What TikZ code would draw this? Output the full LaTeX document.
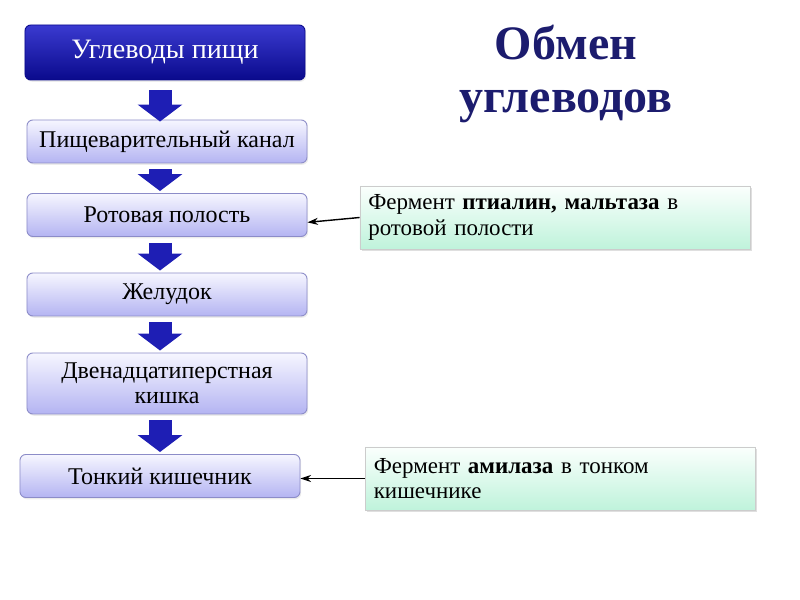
\documentclass[tikz,border=0pt]{standalone}
\usepackage{fontspec}
\setmainfont{Liberation Serif}
\usepackage{xcolor}
\usetikzlibrary{arrows.meta,positioning,shadows,calc}
\definecolor{navy}{HTML}{1C1C6E}
\definecolor{toptop}{HTML}{3A3AD0}
\definecolor{topbot}{HTML}{0A0A8C}
\definecolor{stagetop}{HTML}{F6F6FF}
\definecolor{stagebot}{HTML}{B4B4F2}
\definecolor{stageline}{HTML}{8C8CC8}
\definecolor{notetop}{HTML}{FBFFFD}
\definecolor{notebot}{HTML}{BFF3DB}
\definecolor{arrowblue}{HTML}{1E1EB4}

\begin{document}
\begin{tikzpicture}[x=0.03cm,y=-0.03cm,font=\fontsize{20.5pt}{21.5pt}\selectfont,
  stagebox/.style={draw=stageline,line width=0.8pt,rounded corners=5pt,top color=stagetop,bottom color=stagebot,minimum width=8.4cm,minimum height=1.29cm,align=center,drop shadow={opacity=0.15,shadow xshift=1pt,shadow yshift=-1.5pt}},
  topbox/.style={stagebox,draw=topbot,top color=toptop,bottom color=topbot,text=white,minimum height=1.65cm,font=\fontsize{24pt}{26pt}\selectfont},
  notebox/.style={draw=black!20,line width=0.6pt,top color=notetop,bottom color=notebot,minimum width=11.7cm,minimum height=1.89cm,text width=11.2cm,align=left,font=\fontsize{19.6pt}{22pt}\selectfont,drop shadow={opacity=0.25,shadow xshift=1.5pt,shadow yshift=-2pt}},
  flowarrow/.style={-{Triangle[width=1.32cm,length=0.51cm]},line width=0.69cm,draw=arrowblue},
  note/.style={-{Stealth[length=9pt,width=6pt]},line width=1.2pt}]
\useasboundingbox (0,0) rectangle (800,600);
% title
\node[font=\bfseries\fontsize{41pt}{45pt}\selectfont,text=navy,align=center] (title) at (566,74) {Обмен\\углеводов};
% stages
\node[topbox] (food) at (165,52.5) {Углеводы пищи};
\node[stagebox] (canal) at (167,141.5) {Пищеварительный канал};
\node[stagebox] (mouth) at (167,215) {Ротовая полость};
\node[stagebox] (stomach) at (167,294.5) {Желудок};
\node[stagebox,minimum height=1.83cm] (duod) at (167,383.5) {Двенадцатиперстная\\кишка};
\node[stagebox] (gut) at (160,476) {Тонкий кишечник};
% notes
\node[notebox] (mouthnote) at (555,217.5) {Фермент \textbf{птиалин, мальтаза} в\\ротовой полости};
\node[notebox] (gutnote) at (560.5,478.5) {Фермент \textbf{амилаза} в тонком\\кишечнике};
% block arrows
\coordinate (axis) at (160,0);
\draw[flowarrow,shorten <=0.3cm,shorten >=-0.06cm] (food.south -| axis) -- (canal.north -| axis);
\foreach \a/\b in {canal/mouth,mouth/stomach,stomach/duod,duod/gut}
  \draw[flowarrow,shorten <=0.18cm,shorten >=0.06cm] (\a.south -| axis) -- (\b.north -| axis);
% enzymes
\draw[note] (mouthnote.west) -- (mouth.-3);
\draw[note] (gutnote.west) -- (gutnote.west -| gut.east);
\end{tikzpicture}
\end{document}
